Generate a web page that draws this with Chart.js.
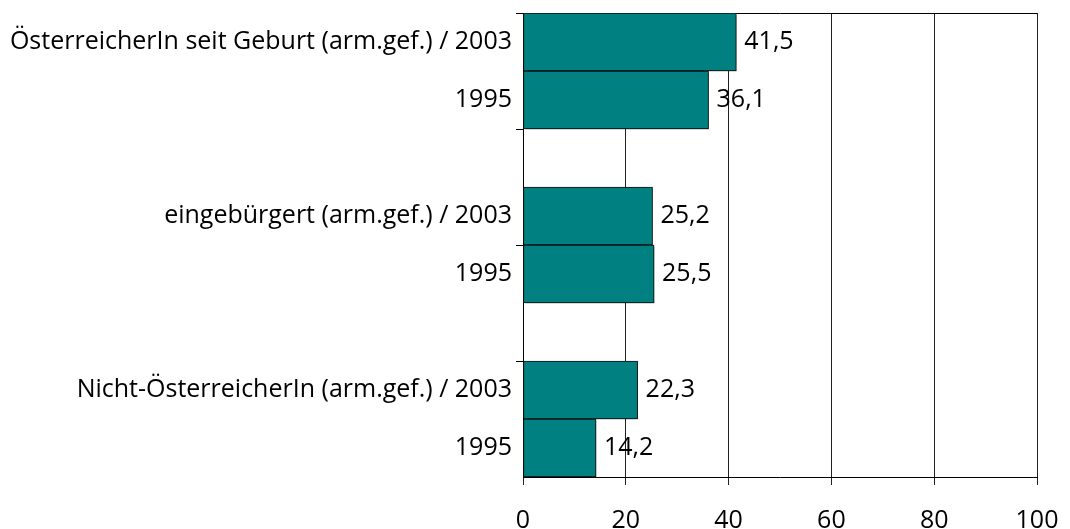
<!DOCTYPE html>
<html>
<head>
<meta charset="utf-8">
<script src="https://cdn.jsdelivr.net/npm/chart.js@4"></script>
<style>
  html, body { margin: 0; padding: 0; background: #fff; }
  #wrap { width: 1070px; height: 529px; }
</style>
</head>
<body>
<div id="wrap"><canvas id="grafico"></canvas></div>
<script>
// Gruppen und Jahre
const gruppen = [
    'ÖsterreicherIn seit Geburt (arm.gef.)',
    'eingebürgert (arm.gef.)',
    'Nicht-ÖsterreicherIn (arm.gef.)'
];
const jahre = ['2003', '1995'];
const werte2003 = [41.5, 25.2, 22.3];
const werte1995 = [36.1, 25.5, 14.2];
const xTicks = [0, 20, 40, 60, 80, 100];

// Kategorien: je Gruppe zwei Balken, dazwischen eine Leerzeile
const kategorien = [];
const werte = [];
gruppen.forEach((g, i) => {
    if (i > 0) {
        kategorien.push('');
        werte.push(null);
    }
    kategorien.push(g + ' / ' + jahre[0]);
    werte.push(werte2003[i]);
    kategorien.push(jahre[1]);
    werte.push(werte1995[i]);
});

const schrift = { family: "'Open Sans', 'Noto Sans', sans-serif", size: 25 };

// Achsen ohne automatische Randabstände
function ohnePadding(s) {
    s.paddingTop = 0;
    s.paddingBottom = 0;
    s.paddingLeft = 0;
    s.paddingRight = 0;
}

// Schatten hinter den Balken
const schattenPlugin = {
    id: 'schatten',
    beforeDatasetsDraw(chart) {
        const ctx = chart.ctx;
        ctx.save();
        ctx.shadowColor = 'rgba(0,0,0,0.35)';
        ctx.shadowOffsetX = 2;
        ctx.shadowOffsetY = 2;
        ctx.shadowBlur = 0;
    },
    afterDatasetsDraw(chart) {
        chart.ctx.restore();
    }
};

// Werte rechts neben den Balken, mit Komma
const wertePlugin = {
    id: 'werteLabels',
    afterDatasetsDraw(chart) {
        const ctx = chart.ctx;
        const meta = chart.getDatasetMeta(0);
        ctx.save();
        ctx.font = schrift.size + 'px ' + schrift.family;
        ctx.fillStyle = '#000';
        ctx.textAlign = 'left';
        ctx.textBaseline = 'middle';
        meta.data.forEach((bar, i) => {
            const v = werte[i];
            if (v === null) return;
            ctx.fillText(v.toFixed(1).replace('.', ','), bar.x + 8, bar.y);
        });
        ctx.restore();
    }
};

new Chart(document.getElementById('grafico'), {
    type: 'bar',
    data: {
        labels: kategorien,
        datasets: [{
            data: werte,
            backgroundColor: '#008080',
            borderColor: '#111',
            borderWidth: 1,
            borderSkipped: false,
            barPercentage: 1,
            categoryPercentage: 1
        }]
    },
    options: {
        indexAxis: 'y',
        responsive: true,
        maintainAspectRatio: false,
        animation: false,
        layout: { padding: { top: 13, right: 33, left: 0, bottom: 0 } },
        plugins: {
            legend: { display: false },
            tooltip: { enabled: false }
        },
        scales: {
            x: {
                min: 0,
                max: 100,
                afterBuildTicks: s => { s.ticks = xTicks.map(v => ({ value: v })); },
                afterFit: s => { s.height = 52; ohnePadding(s); },
                grid: {
                    color: '#222',
                    lineWidth: 1,
                    tickLength: 8,
                    tickColor: '#222'
                },
                border: { color: '#000', width: 1 },
                ticks: {
                    color: '#000',
                    font: schrift,
                    padding: 21,
                    maxRotation: 0
                }
            },
            y: {
                afterFit: s => { s.width = 523; ohnePadding(s); },
                grid: {
                    offset: true,
                    drawOnChartArea: true,
                    color: c => c.index === 0 ? '#000' : 'transparent',
                    tickColor: c => c.index % 2 === 0 ? '#000' : 'transparent',
                    tickLength: 7
                },
                border: { color: '#000', width: 1 },
                ticks: {
                    color: '#000',
                    font: schrift,
                    padding: 4,
                    autoSkip: false
                }
            }
        }
    },
    plugins: [schattenPlugin, wertePlugin]
});
</script>
</body>
</html>
